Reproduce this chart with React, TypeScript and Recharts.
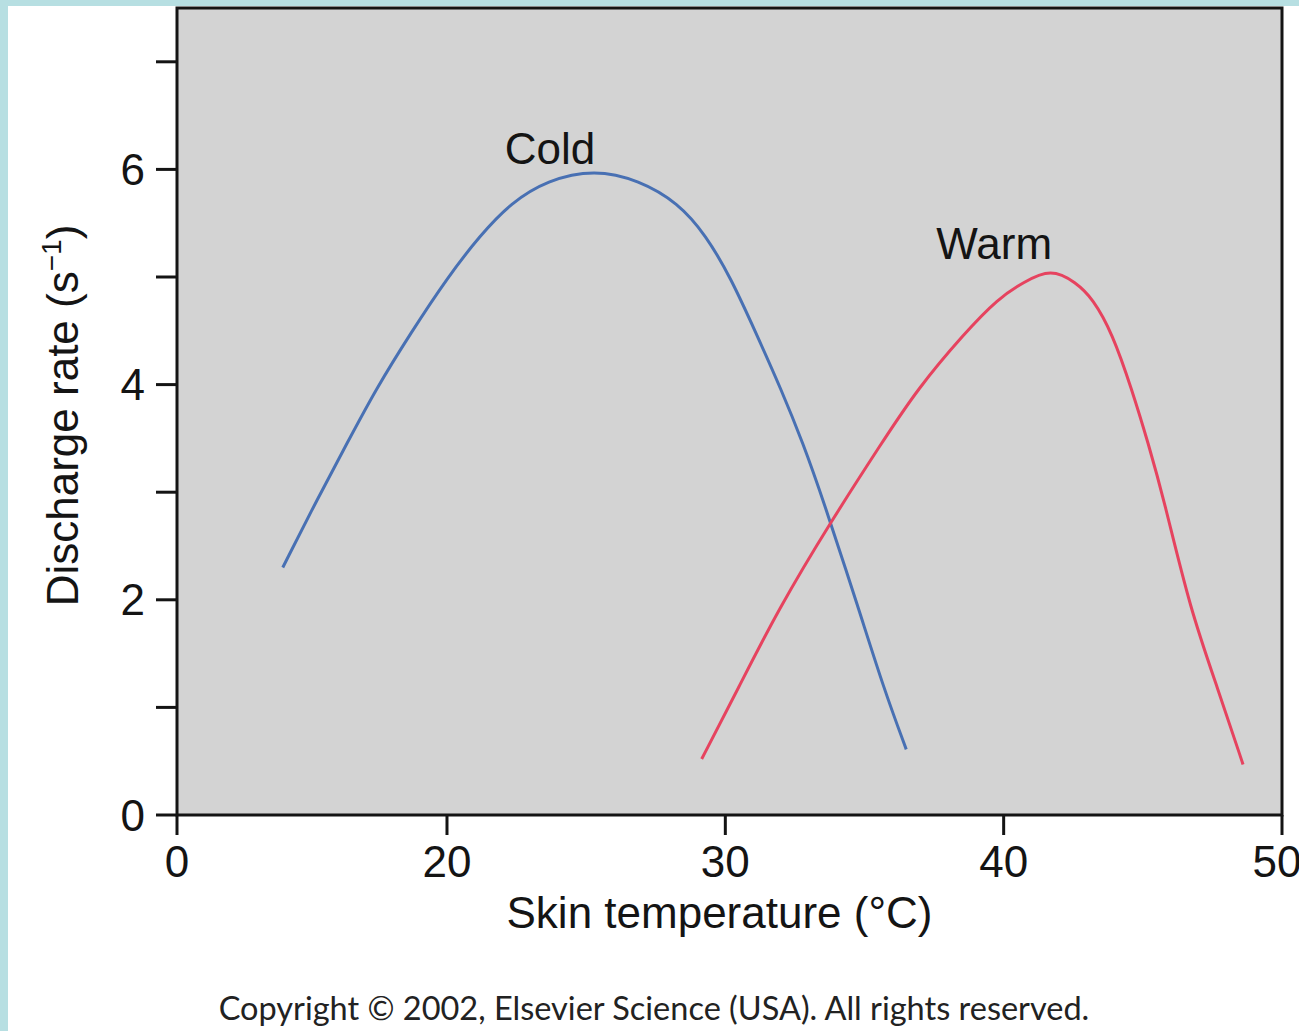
import { LineChart, Line, XAxis, YAxis, ReferenceArea, ReferenceDot, Label } from "recharts"

// cold receptor (blue) – skin temperature °C vs discharge rate s^-1
const coldTemp = [14.1, 15.35, 16.4, 17.45, 18.7, 20.0, 21.2, 22.3, 23.6, 25.3, 26.9, 28.3, 29.3, 30.2, 31.1, 32.0, 32.8, 33.5, 34.8, 35.7, 36.5]
const coldRate = [2.3, 2.94, 3.45, 3.96, 4.48, 4.99, 5.39, 5.69, 5.9, 6.0, 5.9, 5.69, 5.39, 4.99, 4.48, 3.96, 3.45, 2.94, 1.91, 1.17, 0.61]

// warm receptor (red)
const warmTemp = [29.15, 30.45, 31.9, 33.8, 35.6, 36.9, 38.6, 39.8, 40.7, 41.7, 42.6, 43.2, 43.9, 44.6, 45.2, 45.75, 46.7, 47.7, 48.6]
const warmRate = [0.52, 1.17, 1.91, 2.73, 3.45, 3.96, 4.48, 4.8, 4.95, 5.08, 4.95, 4.8, 4.48, 3.96, 3.45, 2.94, 1.91, 1.17, 0.47]

// the x axis is broken: its first tick reads "0"
const xTicks = [10.3, 20, 30, 40, 50]
const xTickLabels = ["0", "20", "30", "40", "50"]
const yTicks = [0, 1, 2, 3, 4, 5, 6, 7]
const yTickLabels = ["0", "", "2", "", "4", "", "6", ""]
const curveLabels = ["Cold", "Warm"]

const coldData = coldTemp.map((t, i) => ({ temp: t, rate: coldRate[i] }))
const warmData = warmTemp.map((t, i) => ({ temp: t, rate: warmRate[i] }))

const FONT = '"Liberation Sans", Arial, Helvetica, sans-serif'
const INK = "#141414"

function XTitle(props: any) {
  const vb = props.viewBox
  const cx = vb.x + vb.width / 2
  return (
    <g>
      <text x={cx - 10} y={vb.y + 113} textAnchor="middle" fontSize={44} fontFamily={FONT} fill={INK}>
        Skin temperature (°C)
      </text>
      <text x={654} y={vb.y + 205} textAnchor="middle" fontSize={32.5} fontFamily="Lato, 'Open Sans', sans-serif" fill="#222">
        Copyright © 2002, Elsevier Science (USA). All rights reserved.
      </text>
    </g>
  )
}

function YTitle(props: any) {
  const vb = props.viewBox
  const x = vb.x + 78
  const y = vb.y + vb.height / 2 + 4
  return (
    <text x={x} y={y} transform={`rotate(-90 ${x} ${y})`} textAnchor="middle" fontSize={44} fontFamily={FONT} fill={INK}>
      Discharge rate (s<tspan fontSize={28} dy={-17}>−1</tspan><tspan dy={17}>)</tspan>
    </text>
  )
}

export default function App() {
  return (
    <div style={{ position: "absolute", left: 0, top: 0, width: 1299, height: 1031, background: "#b7dfe2" }}>
      <div style={{ position: "absolute", left: 8, top: 6, right: 0, bottom: 0, background: "#fff" }} />
      <div style={{ position: "absolute", left: 0, top: 0 }}>
        <LineChart width={1299} height={1031} margin={{ top: 8, right: 17, left: 0, bottom: 0 }}>
          <ReferenceArea x1={10.3} x2={50} y1={0} y2={7.5} fill="#d3d3d3" fillOpacity={1} stroke={INK} strokeWidth={3} />
          <XAxis
            type="number"
            dataKey="temp"
            domain={[10.3, 50]}
            ticks={xTicks}
            tickFormatter={(v) => xTickLabels[xTicks.indexOf(v)]}
            allowDataOverflow
            height={216}
            axisLine={false}
            tickSize={20}
            tickMargin={11}
            tickLine={{ stroke: INK, strokeWidth: 3 }}
            tick={{ fontSize: 44, fill: INK, fontFamily: FONT }}
          >
            <Label content={XTitle} />
          </XAxis>
          <YAxis
            type="number"
            dataKey="rate"
            domain={[0, 7.5]}
            ticks={yTicks}
            tickFormatter={(v) => yTickLabels[yTicks.indexOf(v)]}
            allowDataOverflow
            width={177}
            axisLine={false}
            tickSize={21}
            tickMargin={11}
            tickLine={{ stroke: INK, strokeWidth: 3 }}
            tick={{ fontSize: 44, fill: INK, fontFamily: FONT }}
          >
            <Label content={YTitle} />
          </YAxis>
          <Line data={coldData} dataKey="rate" type="basis" stroke="#4870b3" strokeWidth={3} dot={false} isAnimationActive={false} />
          <Line data={warmData} dataKey="rate" type="basis" stroke="#e6435f" strokeWidth={3} dot={false} isAnimationActive={false} />
          <ReferenceDot x={23.7} y={6.2} r={0} fill="none" stroke="none"
            label={{ value: curveLabels[0], position: "center", fontSize: 44, fill: INK, fontFamily: FONT }} />
          <ReferenceDot x={39.66} y={5.31} r={0} fill="none" stroke="none"
            label={{ value: curveLabels[1], position: "center", fontSize: 44, fill: INK, fontFamily: FONT }} />
        </LineChart>
      </div>
    </div>
  )
}
